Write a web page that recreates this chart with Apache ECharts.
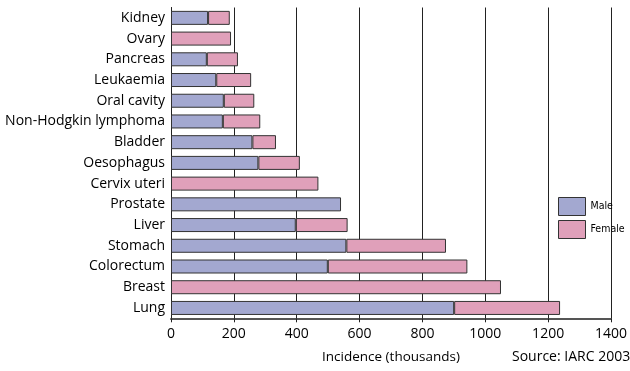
<!DOCTYPE html>
<html><head><meta charset="utf-8">
<script src="https://cdn.jsdelivr.net/npm/echarts@6/dist/echarts.min.js"></script>
<style>html,body{margin:0;padding:0;background:#fff}#c{width:630px;height:371px}</style>
</head><body><div id="c"></div>
<script>
var categories = ['Kidney','Ovary','Pancreas','Leukaemia','Oral cavity','Non-Hodgkin lymphoma','Bladder','Oesophagus','Cervix uteri','Prostate','Liver','Stomach','Colorectum','Breast','Lung'];
var male   = [118, null, 114, 144, 168, 165, 259, 278, null, 541, 397, 558, 499, null, 901];
var female = [69, 191, 99, 111, 97, 119, 75, 132, 469, null, 165, 317, 444, 1050, 337];
var xTicks = [0, 200, 400, 600, 800, 1000, 1200, 1400];

var font = 'Open Sans';
var chart = echarts.init(document.getElementById('c'));
chart.setOption({
  animation: false,
  grid: {left: 171, right: 15, top: 7.5, bottom: 52.7, containLabel: false},
  legend: {
    orient: 'vertical', left: 553, top: 192,
    itemWidth: 27, itemHeight: 18, itemGap: 4,
    icon: 'rect',
    itemStyle: {borderWidth: 1, borderColor: '#333'},
    textStyle: {fontFamily: 'DejaVu Sans Condensed', fontSize: 10.5, color: '#000'},
    data: ['Male', 'Female']
  },
  xAxis: {
    type: 'value', min: xTicks[0], max: xTicks[xTicks.length-1], interval: 200,
    axisLine: {show: true, lineStyle: {color: '#555', width: 2}},
    axisTick: {show: true, length: 4, lineStyle: {color: '#222'}},
    splitLine: {show: true, lineStyle: {color: '#222', width: 1}},
    axisLabel: {fontFamily: font, fontSize: 14, color: '#000', margin: 9,
      formatter: function (v) { return String(v); }},
    name: 'Incidence (thousands)', nameLocation: 'middle', nameGap: 32,
    nameTextStyle: {fontFamily: font, fontSize: 13.5, color: '#000'}
  },
  yAxis: {
    type: 'category', data: categories, inverse: true,
    axisLine: {show: true, lineStyle: {color: '#222', width: 1}},
    axisTick: {show: false},
    axisLabel: {fontFamily: font, fontSize: 14, color: '#000', margin: 6}
  },
  graphic: [{
    type: 'text', left: 512, top: 350,
    style: {text: 'Source: IARC 2003', fontFamily: font, fontSize: 14, fill: '#000'}
  }],
  series: [
    {name: 'Male', type: 'bar', stack: 'total', data: male, barWidth: 14,
     itemStyle: {color: '#a3a8d0', borderColor: '#333', borderWidth: 1}},
    {name: 'Female', type: 'bar', stack: 'total', data: female, barWidth: 14,
     itemStyle: {color: '#e0a0ba', borderColor: '#333', borderWidth: 1}}
  ]
});
</script></body></html>
